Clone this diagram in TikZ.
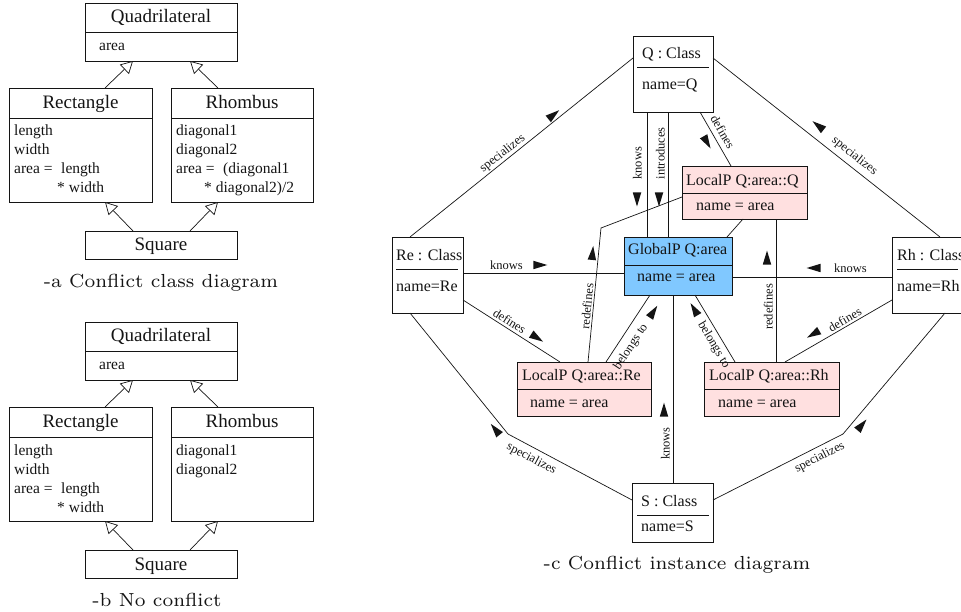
\documentclass[tikz,border=0pt]{standalone}
\usepackage{fontspec}
\usepackage{graphicx}
\usetikzlibrary{arrows.meta,decorations.markings}
\newfontfamily\tms{Liberation Serif}
\definecolor{localfill}{RGB}{255,224,224}
\definecolor{globalfill}{RGB}{128,200,255}
\definecolor{ink}{RGB}{20,20,20}
\begin{document}
\begin{tikzpicture}[x=1pt,y=-1pt,
  box/.style={draw=ink, line width=0.9pt, anchor=north west, inner sep=0pt, outer sep=0pt},
  sep/.style={draw=ink, line width=0.8pt},
  ttl/.style={font=\tms\fontsize{19}{22}\selectfont, anchor=base, inner sep=0pt, text=ink},
  att/.style={font=\tms\fontsize{15.5}{18}\selectfont, anchor=base west, inner sep=0pt, text=ink},
  itx/.style={font=\tms\fontsize{16}{19}\selectfont, anchor=base west, inner sep=0pt, text=ink},
  lbl/.style={font=\tms\fontsize{12.5}{14}\selectfont, sloped, text=ink},
  conn/.style={draw=ink, line width=0.7pt},
  gen/.style={draw=ink, line width=0.7pt, -{Triangle[open, length=12pt, width=13pt, fill=white]}},
  capt/.style={anchor=base, inner sep=0pt, text=ink},
  tri/.style n args={3}{postaction={decorate, decoration={markings,
      mark=at position #1 with {\fill[ink, yshift=#2, xscale=#3]
        (7pt,0pt) -- (-7pt,4.25pt) -- (-7pt,-4.25pt) -- cycle;}}}},
]
\useasboundingbox (0,0) rectangle (961,612);

% ---------------- (a) class diagram with the conflict ----------------
\node[box, minimum width=152pt, minimum height=58pt] (quadA) at (85,3) {};
\draw[sep] ([yshift=-29pt]quadA.north west) -- ([yshift=-29pt]quadA.north east);
\node[ttl] (quadAt) at (161,22.5) {Quadrilateral};
\node[att] (quadAa) at (99,50.7) {area};

\node[box, minimum width=143pt, minimum height=114pt] (rectA) at (9,88) {};
\draw[sep] ([yshift=-30pt]rectA.north west) -- ([yshift=-30pt]rectA.north east);
\node[ttl] (rectAt) at (80.5,108.3) {Rectangle};
\node[att] (rectA1) at (14,136) {length};
\node[att] (rectA2) at (14,155) {width};
\node[att] (rectA3) at (14,174) {area =};
\node[att] (rectA4) at (61,174) {length};
\node[att] (rectA5) at (57,193) {* width};

\node[box, minimum width=142pt, minimum height=114pt] (rhomA) at (171,88) {};
\draw[sep] ([yshift=-30pt]rhomA.north west) -- ([yshift=-30pt]rhomA.north east);
\node[ttl] (rhomAt) at (242,108.3) {Rhombus};
\node[att] (rhomA1) at (176,136) {diagonal1};
\node[att] (rhomA2) at (176,155) {diagonal2};
\node[att] (rhomA3) at (176,174) {area =};
\node[att] (rhomA4) at (223,174) {(diagonal1};
\node[att] (rhomA5) at (204,193) {* diagonal2)/2};

\node[box, minimum width=152pt, minimum height=28pt] (sqA) at (85,231) {};
\node[ttl] (sqAt) at (161,251) {Square};

\draw[gen] ([xshift=96pt]rectA.north west) -- ([xshift=48pt]quadA.south west);
\draw[gen] ([xshift=47pt]rhomA.north west) -- ([xshift=105pt]quadA.south west);
\draw[gen] ([xshift=48pt]sqA.north west) -- ([xshift=96pt]rectA.south west);
\draw[gen] ([xshift=105pt]sqA.north west) -- ([xshift=47pt]rhomA.south west);

\node[capt] (capA) at (161,287.5) {\scalebox{2.7}{\fontsize{7}{8}\selectfont -a Conflict class diagram}};

% ---------------- (b) class diagram without conflict ----------------
\begin{scope}[yshift=-319pt]
\node[box, minimum width=152pt, minimum height=58pt] (quadB) at (85,3) {};
\draw[sep] ([yshift=-29pt]quadB.north west) -- ([yshift=-29pt]quadB.north east);
\node[ttl] (quadBt) at (161,22.5) {Quadrilateral};
\node[att] (quadBa) at (99,50.7) {area};

\node[box, minimum width=143pt, minimum height=114pt] (rectB) at (9,88) {};
\draw[sep] ([yshift=-30pt]rectB.north west) -- ([yshift=-30pt]rectB.north east);
\node[ttl] (rectBt) at (80.5,108.3) {Rectangle};
\node[att] (rectB1) at (14,136) {length};
\node[att] (rectB2) at (14,155) {width};
\node[att] (rectB3) at (14,174) {area =};
\node[att] (rectB4) at (61,174) {length};
\node[att] (rectB5) at (57,193) {* width};

\node[box, minimum width=142pt, minimum height=114pt] (rhomB) at (171,88) {};
\draw[sep] ([yshift=-30pt]rhomB.north west) -- ([yshift=-30pt]rhomB.north east);
\node[ttl] (rhomBt) at (242,108.3) {Rhombus};
\node[att] (rhomB1) at (176,136) {diagonal1};
\node[att] (rhomB2) at (176,155) {diagonal2};

\node[box, minimum width=152pt, minimum height=28pt] (sqB) at (85,231) {};
\node[ttl] (sqBt) at (161,251) {Square};

\draw[gen] ([xshift=96pt]rectB.north west) -- ([xshift=48pt]quadB.south west);
\draw[gen] ([xshift=47pt]rhomB.north west) -- ([xshift=105pt]quadB.south west);
\draw[gen] ([xshift=48pt]sqB.north west) -- ([xshift=96pt]rectB.south west);
\draw[gen] ([xshift=105pt]sqB.north west) -- ([xshift=47pt]rhomB.south west);

\node[capt] (capB) at (157,287) {\scalebox{2.7}{\fontsize{7}{8}\selectfont -b No conflict}};
\end{scope}

% ---------------- (c) instance diagram ----------------
% class objects
\node[box, fill=white, minimum width=80pt, minimum height=76pt] (q) at (633,36) {};
\draw[sep] ([xshift=4pt,yshift=-31pt]q.north west) -- ([xshift=-4pt,yshift=-31pt]q.north east);
\node[itx] (qt) at (642,59) {Q : Class};
\node[itx] (qn) at (642,89.5) {name=Q};

\node[box, fill=white, minimum width=71pt, minimum height=76pt] (re) at (392,237) {};
\draw[sep] ([xshift=4pt,yshift=-32pt]re.north west) -- ([xshift=-5pt,yshift=-32pt]re.north east);
\node[itx] (ret) at (396,260.5) {Re : Class};
\node[itx] (ren) at (396,291) {name=Re};

\node[box, fill=white, minimum width=80pt, minimum height=76pt] (rh) at (892,237) {};
\draw[sep] ([xshift=5pt,yshift=-32pt]rh.north west) -- ([xshift=66pt,yshift=-32pt]rh.north west);
\node[itx] (rht) at (897,260.5) {Rh : Class};
\node[itx] (rhn) at (897,291) {name=Rh};

\node[box, fill=white, minimum width=81pt, minimum height=59pt] (s) at (632,483) {};
\draw[sep] ([xshift=5pt,yshift=-32pt]s.north west) -- ([xshift=-4pt,yshift=-32pt]s.north east);
\node[itx] (st) at (641,506.5) {S : Class};
\node[itx] (sn) at (641,531.5) {name=S};

% property objects
\node[box, fill=globalfill, minimum width=108pt, minimum height=58pt] (gp) at (624,237) {};
\draw[sep] ([yshift=-28pt]gp.north west) -- ([yshift=-28pt]gp.north east);
\node[itx] (gpt) at (628,254.7) {GlobalP Q:area};
\node[itx] (gpn) at (637,281.7) {name = area};

\node[box, fill=localfill, minimum width=125pt, minimum height=53pt] (lq) at (682,166) {};
\draw[sep] ([yshift=-27pt]lq.north west) -- ([yshift=-27pt]lq.north east);
\node[itx] (lqt) at (686,185.7) {LocalP Q:area::Q};
\node[itx] (lqn) at (696,211) {name = area};

\node[box, fill=localfill, minimum width=134pt, minimum height=54pt] (lre) at (517,362) {};
\draw[sep] ([yshift=-27pt]lre.north west) -- ([yshift=-27pt]lre.north east);
\node[itx] (lret) at (522,380) {LocalP Q:area::Re};
\node[itx] (lren) at (530,407.3) {name = area};

\node[box, fill=localfill, minimum width=135pt, minimum height=54pt] (lrh) at (704,362) {};
\draw[sep] ([yshift=-27pt]lrh.north west) -- ([yshift=-27pt]lrh.north east);
\node[itx] (lrht) at (709,380) {LocalP Q:area::Rh};
\node[itx] (lrhn) at (718,407.3) {name = area};

% links (label offsets are set through inner sep so they stay normal to the line)
\draw[conn, tri={0.66}{5.5pt}{1}] ([xshift=18pt]re.north west) --
  node[lbl, pos=0.435, above, inner sep=1pt] (l1) {specializes} ([yshift=-22pt]q.north west);
\draw[conn, tri={0.43}{12pt}{-1}] ([yshift=-22pt]q.north east) --
  node[lbl, pos=0.595, above, inner sep=4.5pt] (l2) {specializes} ([xshift=48pt]rh.north west);
\draw[conn, tri={0.30}{10pt}{-1}] ([xshift=23pt]gp.north west) --
  node[lbl, pos=0.59, above, inner sep=5pt] (l3) {knows} ([xshift=14pt]q.south west);
\draw[conn, tri={0.30}{9pt}{-1}] ([xshift=44pt]gp.north west) --
  node[lbl, pos=0.67, above, inner sep=3pt] (l4) {introduces} ([xshift=35pt]q.south west);
\draw[conn, tri={0.48}{-9pt}{1}] ([xshift=67pt]q.south west) --
  node[lbl, pos=0.46, above, inner sep=5pt] (l5) {defines} ([xshift=49pt]lq.north west);
\draw[conn] ([xshift=61pt]lq.south west) -- ([xshift=103pt]gp.north west);
\draw[conn, tri={109pt}{6pt}{1}] ([xshift=71pt]lre.north west) --
  node[lbl, pos=0.41, above, inner sep=1.5pt] (l7) {redefines} (601,228) -- ([yshift=-31pt]lq.north west);
\draw[conn, tri={0.73}{9pt}{1}] ([xshift=72pt]lrh.north west) --
  node[lbl, pos=0.385, above, inner sep=3pt] (l8) {redefines} ([xshift=94pt]lq.south west);
\draw[conn, tri={0.48}{8pt}{1}] ([yshift=-36pt]re.north east) --
  node[lbl, pos=0.27, above, inner sep=3pt] (l9) {knows} ([yshift=-36pt]gp.north west);
\draw[conn, tri={0.51}{9pt}{-1}] ([yshift=-40pt]gp.north east) --
  node[lbl, pos=0.74, above, inner sep=4pt] (l10) {knows} ([yshift=-40pt]rh.north west);
\draw[conn, tri={0.72}{8pt}{1}] ([yshift=-63pt]re.north east) --
  node[lbl, pos=0.44, above, inner sep=2.5pt] (l11) {defines} ([xshift=43pt]lre.north west);
\draw[conn, tri={0.85}{-12pt}{1}] ([xshift=89pt]lre.north west) --
  node[lbl, pos=0.33, below, inner sep=6.5pt] (l12) {belongs to} ([xshift=26pt]gp.south west);
\draw[conn, tri={0.15}{-8pt}{-1}] ([xshift=71pt]gp.south west) --
  node[lbl, pos=0.67, below, inner sep=3.5pt] (l13) {belongs to} ([xshift=31pt]lrh.north west);
\draw[conn, tri={0.31}{10pt}{-1}] ([xshift=81pt]lrh.north west) --
  node[lbl, pos=0.59, above, inner sep=2pt] (l14) {defines} ([yshift=-63pt]rh.north west);
\draw[conn, tri={0.39}{9pt}{1}] ([xshift=41pt]s.north west) --
  node[lbl, pos=0.21, above, inner sep=3pt] (l15) {knows} ([xshift=49pt]gp.south west);
\draw[conn, tri={144pt}{-7pt}{-1}] ([xshift=18pt]re.south west) -- (508,434) --
  node[lbl, pos=0.23, below, inner sep=5pt] (l16) {specializes} ([yshift=-17pt]s.north west);
\draw[conn, tri={165pt}{-8.6pt}{1}] ([yshift=-17pt]s.north east) --
  node[lbl, pos=0.785, below, inner sep=4.5pt] (l17) {specializes} (843,434) -- ([xshift=53pt]rh.south west);

\node[capt] (capC) at (677,569.3) {\scalebox{2.7}{\fontsize{7}{8}\selectfont -c Conflict instance diagram}};
\end{tikzpicture}
\end{document}
